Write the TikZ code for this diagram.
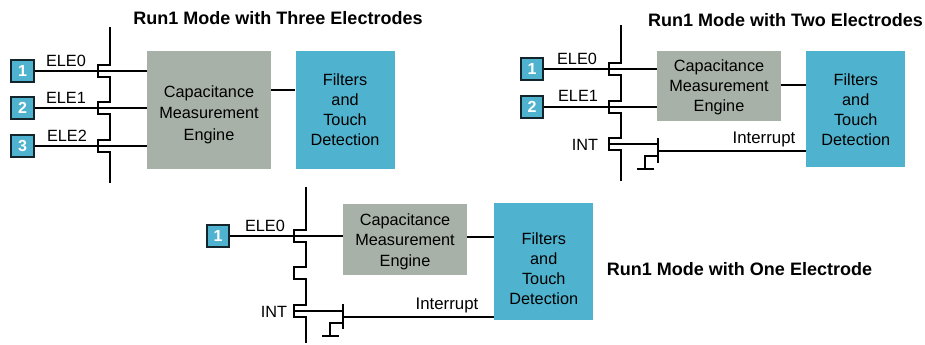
\documentclass[tikz,border=0pt]{standalone}
\usepackage{fontspec}
\setmainfont{Liberation Sans}
\usepackage{xcolor}
\usetikzlibrary{positioning,calc}
\definecolor{capgrey}{HTML}{A7B1A8}
\definecolor{touchblue}{HTML}{4FB3CF}
\definecolor{padedge}{HTML}{14242B}

\begin{document}
\begin{tikzpicture}[x=0.75pt, y=-0.75pt,
    capblock/.style={rectangle, fill=capgrey, align=center, inner sep=0pt, minimum width=93pt, font=\fontsize{12.2}{15.2}\selectfont},
    touchblock/.style={rectangle, fill=touchblue, align=center, inner sep=0pt, minimum width=74.25pt, font=\fontsize{12.2}{15}\selectfont},
    pad/.style={rectangle, draw=padedge, line width=1.7pt, fill=touchblue, text=white, minimum size=17pt, inner sep=0pt, font=\fontsize{12}{12}\selectfont\bfseries},
    title/.style={font=\fontsize{13.5}{16}\selectfont\bfseries, inner sep=0pt},
    tag/.style={font=\fontsize{12.2}{14}\selectfont, inner sep=0pt},
    irqtag/.style={font=\fontsize{12.6}{14}\selectfont, inner sep=0pt},
    wire/.style={draw, line width=1.6pt, line join=miter},
    notch/.style={insert path={-- ++(-12,0) -- ++(0,12) -- ++(12,0)}}]

    \useasboundingbox (0,0) rectangle (925,344);

    % Top left: three electrodes
    \node [title] (title_three) at (278,18) {Run1 Mode with Three Electrodes};
    \node [pad] (pad_a1) at (22.5,71) {1};
    \node [pad] (pad_a2) at (22.5,108) {2};
    \node [pad] (pad_a3) at (22.5,146) {3};
    \node [capblock, minimum height=88.5pt, font=\fontsize{12.2}{16}\selectfont] (cap_a) at (209,110) {\rule{0pt}{16pt}Capacitance\\Measurement\\Engine};
    \node [touchblock, minimum height=88.5pt, right=18pt of cap_a] (touch_a) {Filters\\and\\Touch\\Detection};
    \node [tag] (ele_a0) at (66,61) {ELE0};
    \node [tag] (ele_a1) at (66,98) {ELE1};
    \node [tag] (ele_a2) at (67,136) {ELE2};
    \coordinate (rail_a_top) at (110,27);
    \coordinate (rail_a_bot) at (110,183);

    \draw [wire] (rail_a_top) -- (110,65) [notch] -- (110,102) [notch] -- (110,140) [notch] -- (rail_a_bot);
    \draw [wire] (pad_a1) -- (pad_a1 -| cap_a.west);
    \draw [wire] (pad_a2) -- (pad_a2 -| cap_a.west);
    \draw [wire] (pad_a3) -- (pad_a3 -| cap_a.west);
    \draw [wire] (cap_a.east |- 0,90) -- (touch_a.west |- 0,90);

    % Top right: two electrodes
    \node [title] (title_two) at (785.5,20) {Run1 Mode with Two Electrodes};
    \node [pad] (pad_b1) at (532,69) {1};
    \node [pad] (pad_b2) at (532,107) {2};
    \node [capblock, minimum height=52.5pt] (cap_b) at (719,86) {\rule{0pt}{11pt}Capacitance\\Measurement\\Engine};
    \node [touchblock, anchor=north west, minimum height=87pt] (touch_b) at (806,51) {Filters\\and\\Touch\\Detection};
    \node [tag] (ele_b0) at (577,59) {ELE0};
    \node [tag] (ele_b1) at (578,96) {ELE1};
    \node [tag] (int_b) at (585,145) {INT};
    \node [irqtag] (irq_b) at (764,139) {Interrupt};
    \coordinate (rail_b_top) at (621,25);
    \coordinate (rail_b_bot) at (621,181);
    \coordinate (gate_b) at (658,151);
    \coordinate (sense_b) at (621,144);

    \draw [wire] (rail_b_top) -- (621,63) [notch] -- (621,101) [notch] -- (621,138) [notch] -- (rail_b_bot);
    \draw [wire] (pad_b1) -- (pad_b1 -| cap_b.west);
    \draw [wire] (pad_b2) -- (pad_b2 -| cap_b.west);
    \draw [wire] (609,144) -- (sense_b -| gate_b);
    \draw [wire] ($(gate_b)+(0,-13)$) -- ($(gate_b)+(0,12)$);
    \draw [wire] (gate_b) -- (gate_b -| touch_b.west);
    \draw [wire] ($(gate_b)+(0,5)$) -- ++(-13,0) -- ++(0,13);
    \draw [wire] ($(gate_b)+(-21,18)$) -- ++(17,0);
    \draw [wire] (cap_b.east |- 0,85) -- (touch_b.west |- 0,85);

    % Bottom: one electrode
    \node [title] (title_one) at (739.5,269) {Run1 Mode with One Electrode};
    \node [pad] (pad_c1) at (218,236) {1};
    \node [capblock, minimum height=53pt] (cap_c) at (405,239.5) {\rule{0pt}{12pt}Capacitance\\Measurement\\Engine};
    \node [touchblock, anchor=north west, minimum height=87.5pt] (touch_c) at (494,203) {\rule{0pt}{19.5pt}Filters\\and\\Touch\\Detection};
    \node [tag] (ele_c0) at (265,226) {ELE0};
    \node [tag] (int_c) at (274,312) {INT};
    \node [irqtag] (irq_c) at (447,305) {Interrupt};
    \coordinate (rail_c_top) at (306,187);
    \coordinate (rail_c_bot) at (306,343);
    \coordinate (gate_c) at (343,317);
    \coordinate (sense_c) at (306,311);

    \draw [wire] (rail_c_top) -- (306,230) [notch] -- (306,267) [notch] -- (306,305) [notch] -- (rail_c_bot);
    \draw [wire] (pad_c1) -- (pad_c1 -| cap_c.west);
    \draw [wire] (294,311) -- (sense_c -| gate_c);
    \draw [wire] ($(gate_c)+(0,-13)$) -- ($(gate_c)+(0,12)$);
    \draw [wire] (gate_c) -- (gate_c -| touch_c.west);
    \draw [wire] ($(gate_c)+(0,6)$) -- ++(-13,0) -- ++(0,13);
    \draw [wire] ($(gate_c)+(-21,19)$) -- ++(17,0);
    \draw [wire] (cap_c.east |- 0,237) -- (touch_c.west |- 0,237);
\end{tikzpicture}
\end{document}
